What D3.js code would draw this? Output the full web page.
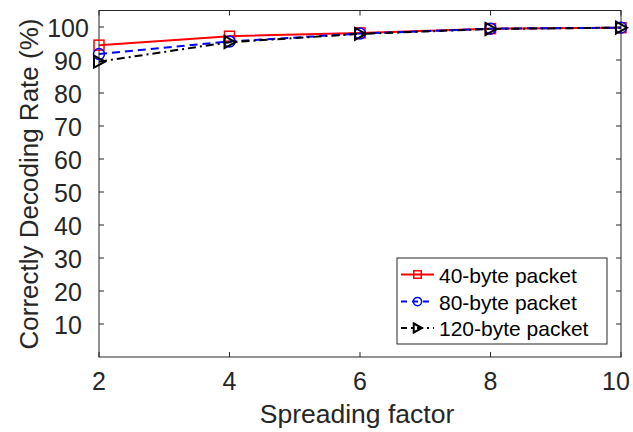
<!DOCTYPE html>
<html><head><meta charset="utf-8">
<script src="https://cdn.jsdelivr.net/npm/d3@7"></script>
<style>body{margin:0;background:#fff}svg{display:block;font-family:"Liberation Sans",Arial,sans-serif}</style>
</head><body>
<script>
const spreadingFactors = [2, 4, 6, 8, 10];
const series40 = [94.5, 97.2, 98.2, 99.5, 99.8];
const series80 = [91.8, 95.6, 98.0, 99.5, 99.8];
const series120 = [89.5, 95.4, 97.9, 99.4, 99.8];
const xTicks = [2, 4, 6, 8, 10];
const yTicks = [10, 20, 30, 40, 50, 60, 70, 80, 90, 100];
const seriesNames = ["40-byte packet", "80-byte packet", "120-byte packet"];

const W = 633, H = 432;
const L = 99, R = 621, T = 10.5, B = 357;
const svg = d3.select("body").append("svg").attr("width", W).attr("height", H);
const x = d3.scaleLinear().domain([2, 10]).range([L, R]);
const y = d3.scaleLinear().domain([0, 105]).range([B, T]);
const txt = "#262626", ax = "#262626";

svg.append("rect").attr("x", L).attr("y", T).attr("width", R - L).attr("height", B - T)
  .attr("fill", "none").attr("stroke", ax).attr("stroke-width", 1);

const tl = 5;
xTicks.forEach(v => {
  svg.append("line").attr("x1", x(v)).attr("x2", x(v)).attr("y1", B).attr("y2", B - tl).attr("stroke", ax);
  svg.append("line").attr("x1", x(v)).attr("x2", x(v)).attr("y1", T).attr("y2", T + tl).attr("stroke", ax);
  const lx = Math.min(x(v), W - 3 - 14);
  svg.append("text").attr("x", lx).attr("y", B + 33).attr("text-anchor", "middle")
    .attr("font-size", 25).attr("fill", txt).text(v);
});
yTicks.forEach(v => {
  svg.append("line").attr("x1", L).attr("x2", L + tl).attr("y1", y(v)).attr("y2", y(v)).attr("stroke", ax);
  svg.append("line").attr("x1", R).attr("x2", R - tl).attr("y1", y(v)).attr("y2", y(v)).attr("stroke", ax);
  svg.append("text").attr("x", 68).attr("y", y(v) + 9.5).attr("text-anchor", "middle")
    .attr("font-size", 25).attr("fill", txt).text(v);
});

svg.append("text").attr("x", 357).attr("y", 423).attr("text-anchor", "middle")
  .attr("font-size", 26.5).attr("fill", txt).text("Spreading factor");
svg.append("text").attr("transform", `translate(38,184) rotate(-90)`).attr("text-anchor", "middle")
  .attr("font-size", 26).attr("fill", txt).text("Correctly Decoding Rate (%)");

const styles = [
  {data: series40, color: "#ff0000", dash: null, marker: "square"},
  {data: series80, color: "#0000ff", dash: "8,5", marker: "circle"},
  {data: series120, color: "#000000", dash: "8,4,2,4", marker: "tri"}
];
function drawMarker(g, type, cx, cy, color, s) {
  if (type === "square") {
    g.append("rect").attr("x", cx - 5 * s).attr("y", cy - 5 * s).attr("width", 10 * s).attr("height", 10 * s)
      .attr("fill", "none").attr("stroke", color).attr("stroke-width", 1.5);
  } else if (type === "circle") {
    g.append("circle").attr("cx", cx).attr("cy", cy).attr("r", 5.5 * s)
      .attr("fill", "none").attr("stroke", color).attr("stroke-width", 1.5);
  } else {
    g.append("path").attr("d", `M${cx - 5 * s},${cy - 6 * s}L${cx + 6 * s},${cy}L${cx - 5 * s},${cy + 6 * s}Z`)
      .attr("fill", "none").attr("stroke", color).attr("stroke-width", 2);
  }
}
const line = d3.line().x((d, i) => x(spreadingFactors[i])).y(d => y(d));
styles.forEach(s => {
  const g = svg.append("g");
  g.append("path").attr("d", line(s.data)).attr("fill", "none").attr("stroke", s.color)
    .attr("stroke-width", 2).attr("stroke-dasharray", s.dash);
  s.data.forEach((v, i) => drawMarker(g, s.marker, x(spreadingFactors[i]), y(v), s.color, 1));
});

const lg = svg.append("g");
lg.append("rect").attr("x", 397).attr("y", 258).attr("width", 210).attr("height", 86)
  .attr("fill", "#fff").attr("stroke", ax).attr("stroke-width", 1);
const legY = [274.5, 301.5, 328];
styles.forEach((s, i) => {
  const cy = legY[i];
  lg.append("line").attr("x1", 401).attr("x2", 434).attr("y1", cy).attr("y2", cy)
    .attr("stroke", s.color).attr("stroke-width", 2).attr("stroke-dasharray", s.dash ? (i === 1 ? "6,5" : "6,4,2,4") : null);
  drawMarker(lg, s.marker, 417.5, cy, s.color, 0.75);
  lg.append("text").attr("x", 439).attr("y", cy + 8).attr("font-size", 21).attr("fill", "#000").text(seriesNames[i]);
});
</script>
</body></html>
